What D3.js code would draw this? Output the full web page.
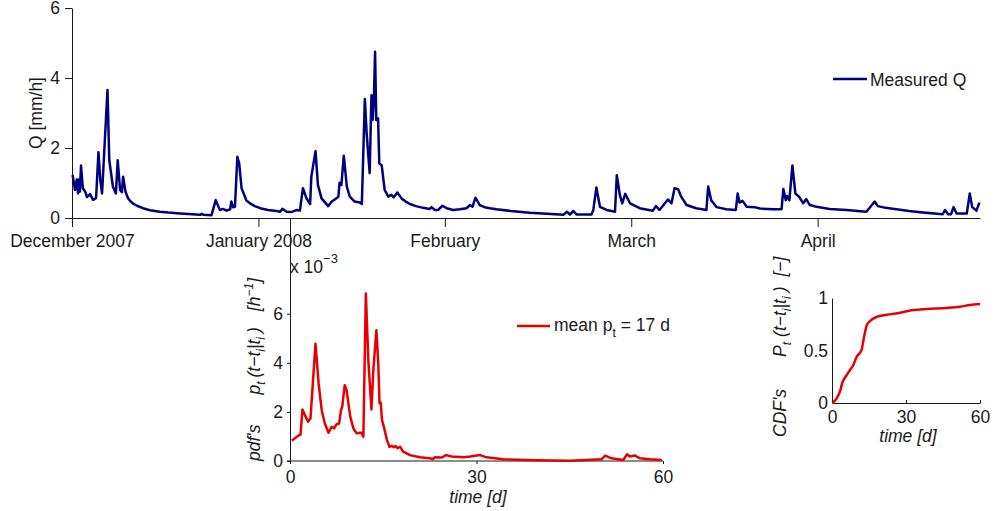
<!DOCTYPE html>
<html>
<head>
<meta charset="utf-8">
<script src="https://cdn.jsdelivr.net/npm/d3@7"></script>
<style>
  html, body { margin: 0; padding: 0; background: #fff; }
  svg { display: block; font-family: "Liberation Sans", Arial, Helvetica, sans-serif; }
  .axis text { font-size: 17.5px; fill: #1a1a1a; }
  .axis path, .axis line { stroke: #1a1a1a; }
</style>
</head>
<body>
<svg id="fig" width="994" height="511"></svg>
<script>
// ---- Discharge record (days since 1 Dec 2007, Q in mm/h) ----
const qDay = [0.1,0.5,0.8,1.0,1.1,1.3,1.5,1.8,2.2,2.5,3.0,3.5,4.0,4.4,4.7,5.0,5.9,6.2,6.8,7.3,7.6,8.0,8.3,8.5,8.9,9.3,9.7,10.1,10.8,11.8,13.0,14.6,16.0,18.0,21.3,21.6,21.9,23.2,23.9,24.6,25.1,25.7,26.3,26.5,26.8,27.1,27.5,27.8,28.2,28.5,29.0,29.6,30.4,31.3,32.6,34.0,34.6,35.0,35.7,36.5,37.4,37.9,38.4,39.0,39.6,39.8,40.5,40.9,41.5,42.6,43.2,43.7,44.3,44.5,44.8,45.2,45.7,46.2,47.0,47.9,48.2,48.7,49.0,49.5,49.8,50.0,50.2,50.4,50.6,50.9,51.1,51.5,52.0,52.6,53.1,53.5,54.1,54.8,55.5,56.2,57.2,58.4,59.5,59.8,60.3,60.9,61.6,62.3,63.4,64.5,65.6,66.2,66.6,67.1,67.8,68.6,69.5,70.6,73.0,76.1,79.0,81.7,82.3,82.8,83.4,83.9,86.4,86.7,87.2,87.8,88.9,90.3,90.6,91.1,91.5,92.0,92.8,94.4,96.6,97.1,97.7,98.6,99.1,99.7,100.2,100.8,101.3,102.2,103.8,105.5,105.8,106.3,107.2,108.8,110.4,110.7,111.0,111.5,112.2,113.5,114.4,116.6,118.0,118.3,118.7,118.9,119.3,119.8,120.3,120.9,121.6,122.1,122.7,123.8,126.0,128.8,132.1,133.5,134.0,135.3,137.1,139.2,141.5,144.8,145.2,145.7,146.2,146.6,147.1,148.8,149.3,149.7,150.4,150.9];
const qVal = [1.23,0.8,1.1,0.7,1.1,0.75,1.5,0.85,0.75,0.6,0.68,0.52,0.57,1.88,1.08,0.7,3.66,1.65,0.9,0.7,1.65,0.8,0.74,1.18,0.75,0.57,0.48,0.42,0.35,0.28,0.22,0.18,0.155,0.13,0.09,0.12,0.09,0.08,0.51,0.23,0.26,0.21,0.25,0.47,0.31,0.32,1.75,1.57,0.85,0.72,0.5,0.42,0.34,0.28,0.23,0.2,0.18,0.26,0.18,0.17,0.23,0.21,0.85,0.56,0.4,1.18,1.91,0.94,0.56,0.34,0.47,0.53,0.61,1.01,0.94,1.78,0.9,0.61,0.47,0.44,0.4,3.4,2.42,1.28,3.51,2.8,3.37,4.75,2.8,2.85,1.56,1.51,0.8,0.61,0.66,0.59,0.73,0.56,0.47,0.4,0.34,0.29,0.26,0.31,0.23,0.23,0.35,0.28,0.23,0.25,0.28,0.37,0.32,0.58,0.37,0.31,0.28,0.25,0.2,0.15,0.12,0.09,0.18,0.1,0.2,0.1,0.1,0.23,0.87,0.32,0.23,0.18,1.22,0.66,0.42,0.69,0.42,0.28,0.21,0.34,0.23,0.42,0.53,0.42,0.85,0.82,0.61,0.37,0.28,0.23,0.9,0.51,0.31,0.25,0.23,0.7,0.44,0.49,0.32,0.31,0.27,0.25,0.25,0.83,0.51,0.63,0.51,1.5,0.7,0.61,0.42,0.54,0.37,0.32,0.26,0.23,0.18,0.47,0.34,0.29,0.25,0.2,0.16,0.11,0.23,0.11,0.11,0.31,0.13,0.13,0.7,0.31,0.21,0.44];
const monthTicks = [0, 31, 62, 93, 124];
const monthLabels = ["December 2007", "January 2008", "February", "March", "April"];
const qTicks = [0, 2, 4, 6];

// ---- Travel-time pdf (days, values in 1e-3 h^-1) ----
const pdfDay = [0.3,1.1,1.5,1.7,2.0,2.4,2.9,3.3,4.1,4.6,5.1,5.6,6.2,6.7,7.1,7.5,7.9,8.2,8.4,8.8,9.1,9.7,10.2,10.7,11.3,11.5,11.8,12.2,12.6,13.1,13.4,13.9,14.2,14.4,14.6,14.8,15.1,15.6,16.0,16.4,16.7,17.0,17.3,17.7,18.2,19.3,20.9,22.5,23.0,23.3,24.4,25.1,26.0,27.9,29.0,30.6,31.6,34.3,39.7,45.0,47.7,50.1,50.7,51.7,53.6,54.2,54.7,55.5,56.3,57.9,59.8];
const pdfVal = [0.83,0.99,1.06,1.08,2.1,1.87,1.6,1.74,4.78,3.16,2.07,1.53,1.15,1.39,1.33,1.5,1.53,2.07,2.21,3.09,2.89,1.8,1.33,1.13,1.15,1.15,0.99,6.82,4.1,2.1,3.7,5.33,3.97,2.35,2.37,1.67,1.39,0.85,0.58,0.62,0.56,0.61,0.52,0.58,0.38,0.24,0.15,0.11,0.08,0.15,0.14,0.24,0.18,0.15,0.18,0.24,0.15,0.07,0.03,0.01,0.04,0.07,0.22,0.11,0.04,0.27,0.18,0.22,0.11,0.07,0.04];
const pdfTicks = [0, 2, 4, 6];
const timeTicks = [0, 30, 60];

// ---- Travel-time CDF ----
const cdfDay = [0.1,1.9,3.2,4.3,5.7,7.3,8.6,10.0,11.4,12.0,13.0,14.1,15.4,18.1,22.2,27.6,33.0,38.4,46.5,51.9,55.9,60];
const cdfVal = [0,0.045,0.108,0.2,0.257,0.314,0.36,0.44,0.48,0.505,0.63,0.74,0.78,0.82,0.84,0.86,0.885,0.895,0.905,0.917,0.933,0.943];
const cdfTicks = [0, 0.5, 1];

const svg = d3.select("#fig");
const ink = "#1a1a1a";
const navy = "#00007f";
const red = "#e60000";

// ================= Discharge panel =================
const xQ = d3.scaleLinear().domain([0, 151]).range([72, 980]);
const yQ = d3.scaleLinear().domain([0, 6]).range([218, 8]);

const gQ = svg.append("g");
gQ.append("path")
  .datum(qDay.map((d, i) => [d, qVal[i]]))
  .attr("fill", "none").attr("stroke", navy).attr("stroke-width", 2.5)
  .attr("stroke-linejoin", "round")
  .attr("d", d3.line().x(d => xQ(d[0])).y(d => yQ(d[1])));

gQ.append("g").attr("class", "axis").attr("transform", "translate(72,0)")
  .call(d3.axisLeft(yQ).tickValues(qTicks).tickFormat(d3.format("d"))
    .tickSize(7).tickSizeOuter(0).tickPadding(5));

gQ.append("g").attr("class", "axis").attr("transform", "translate(0,218)")
  .call(d3.axisBottom(xQ).tickValues(monthTicks).tickFormat((d, i) => monthLabels[i])
    .tickSize(9).tickSizeOuter(0).tickPadding(8));

gQ.append("text").attr("transform", "translate(42,113) rotate(-90)")
  .attr("text-anchor", "middle").style("font-size", "17.5px").attr("fill", ink)
  .text("Q [mm/h]");

// legend
gQ.append("line").attr("x1", 833).attr("x2", 867).attr("y1", 79).attr("y2", 79)
  .attr("stroke", navy).attr("stroke-width", 2.5);
gQ.append("text").attr("x", 870).attr("y", 86).style("font-size", "17.5px")
  .attr("fill", ink).text("Measured Q");

// ================= pdf panel =================
const xP = d3.scaleLinear().domain([0, 60]).range([290, 663]);
const yP = d3.scaleLinear().domain([0, 9.9]).range([461, 218]);

const gP = svg.append("g");
// zero baseline
gP.append("line").attr("x1", 287).attr("x2", xP(60)).attr("y1", yP(0)).attr("y2", yP(0))
  .attr("stroke", "#8c8c8c").attr("stroke-width", 2);
gP.append("g").attr("class", "axis").attr("transform", `translate(0,${yP(0)})`)
  .call(d3.axisBottom(xP).tickValues(timeTicks).tickSize(3).tickSizeOuter(0).tickPadding(7))
  .call(g => g.select(".domain").remove());

gP.append("path")
  .datum(pdfDay.map((d, i) => [d, pdfVal[i]]))
  .attr("fill", "none").attr("stroke", red).attr("stroke-width", 2.5)
  .attr("stroke-linejoin", "round")
  .attr("d", d3.line().x(d => xP(d[0])).y(d => yP(d[1])));

gP.append("g").attr("class", "axis").attr("transform", "translate(290,0)")
  .call(d3.axisLeft(yP).tickValues(pdfTicks).tickSize(3).tickSizeOuter(0).tickPadding(4));

// exponent
const ex = gP.append("text").attr("x", 290).attr("y", 273).style("font-size", "17.5px").attr("fill", ink);
ex.append("tspan").text("x 10");
ex.append("tspan").attr("dy", -10).style("font-size", "13px").text("−3");

gP.append("text").attr("x", 478).attr("y", 503).attr("text-anchor", "middle")
  .style("font-size", "17.5px").style("font-style", "italic").attr("fill", ink).text("time [d]");

// y label
const lp = gP.append("text").attr("transform", "translate(260,461) rotate(-90)")
  .style("font-size", "17.5px").style("font-style", "italic").attr("fill", ink);
lp.append("tspan").text("pdf's");
lp.append("tspan").attr("dx", 30).text("p");
lp.append("tspan").attr("dy", 5).style("font-size", "12px").text("t");
lp.append("tspan").attr("dy", -5).attr("dx", 4).text("(t−t");
lp.append("tspan").attr("dy", 5).style("font-size", "12px").text("i");
lp.append("tspan").attr("dy", -5).text("|t");
lp.append("tspan").attr("dy", 5).style("font-size", "12px").text("i");
lp.append("tspan").attr("dy", -5).attr("dx", 4).text(")");
lp.append("tspan").attr("dx", 16).text("[h");
lp.append("tspan").attr("dy", -7).style("font-size", "12px").text("−1");
lp.append("tspan").attr("dy", 7).text("]");

// legend
gP.append("line").attr("x1", 517).attr("x2", 550).attr("y1", 326).attr("y2", 326)
  .attr("stroke", red).attr("stroke-width", 2.5);
const lg = gP.append("text").attr("x", 554).attr("y", 331).style("font-size", "17.5px").attr("fill", ink);
lg.append("tspan").text("mean p");
lg.append("tspan").attr("dy", 6).style("font-size", "12.5px").text("t");
lg.append("tspan").attr("dy", -6).text(" = 17 d");

// ================= CDF panel =================
const xC = d3.scaleLinear().domain([0, 60]).range([832, 980]);
const yC = d3.scaleLinear().domain([0, 1]).range([403, 298]);

const gC = svg.append("g");
gC.append("g").attr("class", "axis").attr("transform", `translate(0,${yC(0)})`)
  .call(d3.axisBottom(xC).tickValues(timeTicks).tickSize(-3).tickSizeOuter(0).tickPadding(8))
  .call(g => g.select(".domain").attr("stroke", "#555"));
gC.append("g").attr("class", "axis").attr("transform", "translate(832,0)")
  .call(d3.axisLeft(yC).tickValues(cdfTicks).tickFormat(d3.format("")).tickSize(0).tickPadding(4));

gC.append("path")
  .datum(cdfDay.map((d, i) => [d, cdfVal[i]]))
  .attr("fill", "none").attr("stroke", red).attr("stroke-width", 2.5)
  .attr("stroke-linejoin", "round")
  .attr("d", d3.line().curve(d3.curveMonotoneX).x(d => xC(d[0])).y(d => yC(d[1])));

gC.append("text").attr("x", 908).attr("y", 442).attr("text-anchor", "middle")
  .style("font-size", "17.5px").style("font-style", "italic").attr("fill", ink).text("time [d]");

const lc = gC.append("text").attr("transform", "translate(786,437) rotate(-90)")
  .style("font-size", "17.5px").style("font-style", "italic").attr("fill", ink);
lc.append("tspan").text("CDF's");
lc.append("tspan").attr("dx", 32).text("P");
lc.append("tspan").attr("dy", 5).style("font-size", "12px").text("t");
lc.append("tspan").attr("dy", -5).attr("dx", 5).text("(t−t");
lc.append("tspan").attr("dy", 5).style("font-size", "12px").text("i");
lc.append("tspan").attr("dy", -5).text("|t");
lc.append("tspan").attr("dy", 5).style("font-size", "12px").text("i");
lc.append("tspan").attr("dy", -5).attr("dx", 4).text(")");
lc.append("tspan").attr("dx", 10).text("[−]");
</script>
</body>
</html>
